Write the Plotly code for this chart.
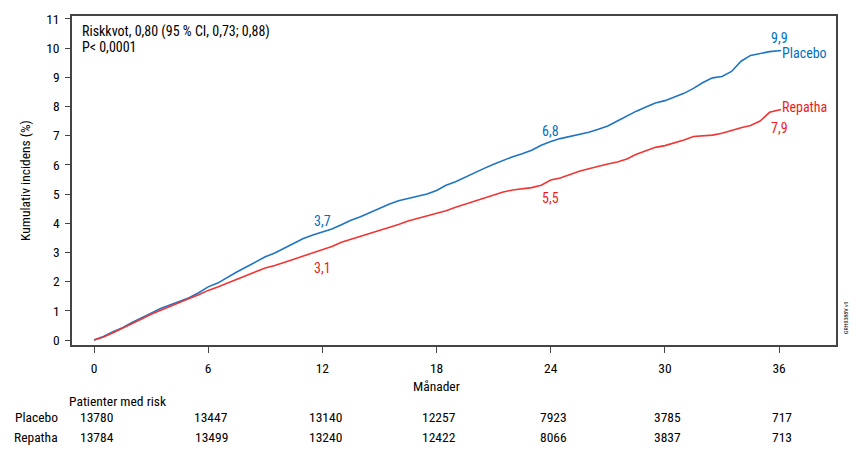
import plotly.graph_objects as go

# ---- data ----
placebo_months = [0, 0.5, 1, 1.5, 2, 2.5, 3, 3.5, 4, 4.5, 5, 5.5, 6, 6.5, 7, 7.5, 8, 8.5, 9, 9.5,
                  10, 10.5, 11, 11.5, 12, 12.5, 13, 13.5, 14, 14.5, 15, 15.5, 16, 16.5, 17, 17.5,
                  18, 18.5, 19, 19.5, 20, 20.5, 21, 21.5, 22, 22.5, 23, 23.5, 24, 24.5, 25, 25.5,
                  26, 26.5, 27, 27.5, 28, 28.5, 29, 29.5, 30, 30.5, 31, 31.5, 32, 32.5, 33, 33.5,
                  34, 34.5, 35, 35.5, 36.1]
placebo_values = [0, 0.12, 0.28, 0.42, 0.6, 0.75, 0.92, 1.08, 1.2, 1.32, 1.45, 1.62, 1.82, 1.95,
                  2.15, 2.33, 2.5, 2.68, 2.85, 2.98, 3.15, 3.33, 3.48, 3.6, 3.7, 3.8, 3.95, 4.1,
                  4.22, 4.37, 4.5, 4.65, 4.77, 4.85, 4.92, 5.0, 5.12, 5.3, 5.42, 5.58, 5.72, 5.88,
                  6.02, 6.16, 6.28, 6.38, 6.5, 6.67, 6.8, 6.9, 6.97, 7.04, 7.12, 7.22, 7.33, 7.5,
                  7.68, 7.84, 7.98, 8.12, 8.2, 8.33, 8.45, 8.62, 8.82, 8.98, 9.03, 9.2, 9.55, 9.75,
                  9.82, 9.88, 9.92]

repatha_months = placebo_months
repatha_values = [0, 0.1, 0.25, 0.4, 0.55, 0.72, 0.88, 1.02, 1.15, 1.3, 1.42, 1.55, 1.7, 1.82,
                  1.95, 2.08, 2.2, 2.35, 2.47, 2.55, 2.65, 2.77, 2.88, 2.98, 3.1, 3.2, 3.35, 3.45,
                  3.55, 3.65, 3.75, 3.86, 3.96, 4.08, 4.17, 4.25, 4.33, 4.43, 4.55, 4.65, 4.75,
                  4.86, 4.97, 5.07, 5.14, 5.18, 5.22, 5.3, 5.48, 5.55, 5.67, 5.78, 5.87, 5.96, 6.03,
                  6.1, 6.2, 6.36, 6.47, 6.6, 6.66, 6.75, 6.85, 6.97, 7.0, 7.02, 7.08, 7.18, 7.27,
                  7.35, 7.5, 7.8, 7.9]

x_ticks = [0, 6, 12, 18, 24, 30, 36]
y_ticks = list(range(0, 12))

risk_placebo = [13780, 13447, 13140, 12257, 7923, 3785, 717]
risk_repatha = [13784, 13499, 13240, 12422, 8066, 3837, 713]

placebo_labels_x = [12, 24, 36]
placebo_labels = ["3,7", "6,8", "9,9"]
repatha_labels = ["3,1", "5,5", "7,9"]

# ---- style ----
BLUE = "#1f74c4"
BLUE_TXT = "#0070c0"
RED = "#f03535"
RED_TXT = "#ee1c1c"
FONT = "Liberation Sans Narrow, Roboto Condensed, Liberation Sans, Arial, sans-serif"
AXC = "#444444"

fig = go.Figure()
fig.add_trace(go.Scatter(x=placebo_months, y=placebo_values, mode="lines",
                         line=dict(color=BLUE, width=1.6), name="Placebo", hoverinfo="skip"))
fig.add_trace(go.Scatter(x=repatha_months, y=repatha_values, mode="lines",
                         line=dict(color=RED, width=1.6), name="Repatha", hoverinfo="skip"))

# plot area in pixels: x 72..836, y 16..345
W, H = 856, 455
L, R, T, B = 72, 836, 16, 345
PH = B - T


def py(p):
    return (B - p) / PH


def px(p):
    return (p - L) / (R - L)


def note(x, y, text, xref="paper", yref="paper", xanchor="center", size=13.5,
         color="black", **kw):
    return dict(x=x, y=y, xref=xref, yref=yref, text=text, showarrow=False,
                xanchor=xanchor, yanchor="middle",
                font=dict(color=color, size=size, family=FONT), **kw)


ann = []
pl_y = [4.08, 7.16, 10.34]
rp_y = [2.47, 4.86, 7.26]
for xv, t, yv in zip(placebo_labels_x, placebo_labels, pl_y):
    ann.append(note(xv, yv, t, "x", "y", size=14, color=BLUE_TXT))
for xv, t, yv in zip(placebo_labels_x, repatha_labels, rp_y):
    ann.append(note(xv, yv, t, "x", "y", size=14, color=RED_TXT))
ann.append(note(36.05, 9.83, "Placebo", "x", "y", "left", size=14, color=BLUE_TXT))
ann.append(note(36.05, 7.98, "Repatha", "x", "y", "left", size=14, color=RED_TXT))

ann.append(note(px(80), py(31), "Riskkvot, 0,80 (95 % CI, 0,73; 0,88)", xanchor="left", size=14))
ann.append(note(px(80), py(47), "P< 0,0001", xanchor="left", size=14))

ann.append(note(px(67), py(401), "Patienter med risk", xanchor="left"))
ann.append(note(px(60), py(417), "Placebo", xanchor="right"))
ann.append(note(px(60), py(437), "Repatha", xanchor="right"))
for xv, a, b in zip(x_ticks, risk_placebo, risk_repatha):
    ann.append(note(xv + 0.15, py(417), str(a), xref="x"))
    ann.append(note(xv + 0.15, py(437), str(b), xref="x"))

ann.append(note(18, py(386), "Månader", xref="x"))
ann.append(note(px(845), py(318), "GRH0388V v1", size=6, textangle=-90))

fig.update_layout(
    width=W, height=H,
    margin=dict(l=L, r=W - R, t=T, b=H - B, pad=0, autoexpand=False),
    paper_bgcolor="white", plot_bgcolor="white",
    showlegend=False,
    font=dict(family=FONT, size=13.5, color="black"),
    annotations=ann,
    xaxis=dict(range=[-1.156, 38.99], tickvals=x_ticks, ticktext=[str(v) for v in x_ticks],
               showgrid=False, zeroline=False, showline=True, linecolor=AXC, linewidth=1.5,
               mirror=True, ticks="outside", ticklen=6, tickcolor=AXC, tickwidth=1,
               ticklabelstandoff=4,
               tickfont=dict(size=13.5, family=FONT, color="black")),
    yaxis=dict(range=[-0.171, 11.1], tickvals=y_ticks, ticktext=[str(v) for v in y_ticks],
               showgrid=False, zeroline=False, showline=True, linecolor=AXC, linewidth=1.5,
               mirror=True, ticks="outside", ticklen=5, tickcolor=AXC, tickwidth=1,
               ticklabelstandoff=3,
               tickfont=dict(size=13.5, family=FONT, color="black"),
               title=dict(text="Kumulativ incidens (%)", standoff=12,
                          font=dict(size=13.5, family=FONT, color="black"))),
)

fig.write_html("out.html", config={"displayModeBar": False},
               post_script="document.body.style.margin='0px';")
